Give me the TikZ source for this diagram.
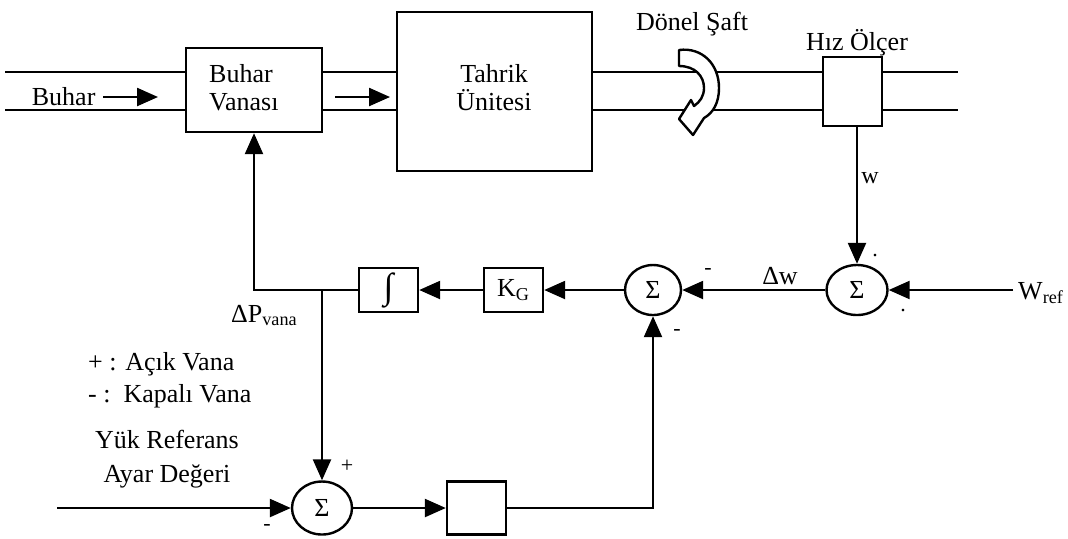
\documentclass[tikz,border=0pt]{standalone}
\usepackage{fontspec}
\setmainfont{Liberation Serif}
\usetikzlibrary{arrows.meta,shapes.geometric}
\begin{document}
\begin{tikzpicture}[x=0.5pt,y=-0.5pt, line width=1.2pt,
  every node/.style={font=\fontsize{13}{14}\selectfont},
  box/.style={draw, rectangle, inner sep=0pt, line width=1.2pt},
  sum/.style={draw, ellipse, inner sep=0pt, line width=1.2pt, minimum width=29pt, minimum height=25pt},
  arr/.style={-{Triangle[length=10.5pt,width=9pt]}},
  sign/.style={inner sep=0pt, font=\fontsize{11}{12}\selectfont},
]
\useasboundingbox (0,0) rectangle (1068,538);

% --- blocks ---
\node[box, minimum width=68pt, minimum height=42pt] (vanasi) at (254,90) {};
\node[anchor=base west, inner sep=0pt] (vanasiT1) at (208,82) {Buhar};
\node[anchor=base west, inner sep=0pt] (vanasiT2) at (208,110) {Vanası};

\node[box, minimum width=97.5pt, minimum height=79.5pt] (tahrik) at (494.5,91.5) {};
\node[anchor=base, inner sep=0pt] (tahrikT1) at (494,82) {Tahrik};
\node[anchor=base, inner sep=0pt] (tahrikT2) at (494,110) {Ünitesi};

\node[box, minimum width=29.5pt, minimum height=34.5pt] (hiz) at (852.5,91.5) {};
\node[anchor=base, inner sep=0pt] (hizT) at (857,50) {Hız Ölçer};
\node[anchor=base, inner sep=0pt] (donel) at (692,30) {Dönel Şaft};

% --- pipes ---
\coordinate (pLt) at (5,72);
\coordinate (pLb) at (5,110);
\coordinate (pRt) at (958,72);
\coordinate (pRb) at (958,110);
\draw (pLt) -- (pLt -| vanasi.west);
\draw (pLb) -- (pLb -| vanasi.west);
\draw (vanasi.east |- pLt) -- (tahrik.west |- pLt);
\draw (vanasi.east |- pLb) -- (tahrik.west |- pLb);
\draw (tahrik.east |- pLt) -- (hiz.west |- pLt);
\draw (tahrik.east |- pLb) -- (hiz.west |- pLb);
\draw (hiz.east |- pLt) -- (pRt);
\draw (hiz.east |- pLb) -- (pRb);

% steam arrows
\node[anchor=base west] (buhar) at (24,105) {Buhar};
\coordinate (buharTip) at (158,97);
\draw[arr] (buhar.east |- buharTip) -- (buharTip);
\coordinate (a1s) at (335,97);
\coordinate (a1e) at (390,97);
\draw[arr] (a1s) -- (a1e);

% rotating shaft arrow
\draw[fill=white, line join=round]
  (679,50) .. controls (702,47) and (719,64) .. (719,88)
  .. controls (719,103) and (713,113) .. (704,118)
  -- (693,135) -- (679,119) -- (691,100) -- (694,106)
  .. controls (700,102) and (704,96) .. (704,88)
  .. controls (704,76) and (695,66) .. (679,66) -- cycle;

% --- feedback loop ---
\node[sum, minimum width=30.5pt] (s2) at (857,290) {Σ};
\node[sum, minimum width=28pt] (s1) at (653,290) {Σ};
\node[sum, minimum width=30pt, minimum height=26.5pt] (s3) at (322,508) {Σ};
\node[box, minimum width=29.5pt, minimum height=22pt, font=\fontsize{18}{18}\selectfont] (integ) at (388.5,290) {∫};
\node[box, minimum width=29.5pt, minimum height=22pt] (kg) at (513.5,290) {K\textsubscript{G}};
\node[box, minimum width=29.5pt, minimum height=26.5pt] (bbox) at (476.5,508) {};

\draw[arr] (hiz.south -| s2.north) -- (s2.north);
\node[font=\fontsize{12}{13}\selectfont] (w) at (870,178) {w};
\coordinate (wref) at (1013,290);
\draw[arr] (wref) -- (s2.east);
\node[anchor=west, inner sep=1pt] (wrefT) at (1015,293) {W\textsubscript{ref}};
\draw[arr] (s2.west) -- (s1.east);
\node (dw) at (780,276) {Δw};
\draw[arr] (s1.west) -- (kg.east);
\draw[arr] (kg.west) -- (integ.east);
\coordinate (corner) at (vanasi.south |- integ.west);
\draw[arr] (integ.west) -- (corner) -- (vanasi.south);
\coordinate (branch) at (s3.north |- integ.west);
\draw[arr] (branch) -- (s3.north);
\node[anchor=base west, inner sep=0pt] (dp) at (230,322) {ΔP\textsubscript{vana}};

\coordinate (yin) at (57,508);
\draw[arr] (yin) -- (s3.west);
\draw[arr] (s3.east) -- (bbox.west);
\draw[arr] (bbox.east) -- (bbox.east -| s1.south) -- (s1.south);

% signs
\node[sign] (m1) at (708,271) {-};
\node[sign] (m2) at (677,332) {-};
\node[sign] (m3) at (267,527) {-};
\node[sign] (p3) at (347,466) {+};
\node[sign] (d1) at (875,255) {.};
\node[sign] (d2) at (903,310) {.};

% legend
\node[anchor=base west, inner sep=0pt] (leg1) at (87,370) {+ : Açık Vana};
\node[anchor=base west, inner sep=0pt] (leg2) at (87,402) {- :\ \ Kapalı Vana};
\node[anchor=base, inner sep=0pt] (yk1) at (167,448) {Yük Referans};
\node[anchor=base, inner sep=0pt] (yk2) at (167,482) {Ayar Değeri};
\end{tikzpicture}
\end{document}
